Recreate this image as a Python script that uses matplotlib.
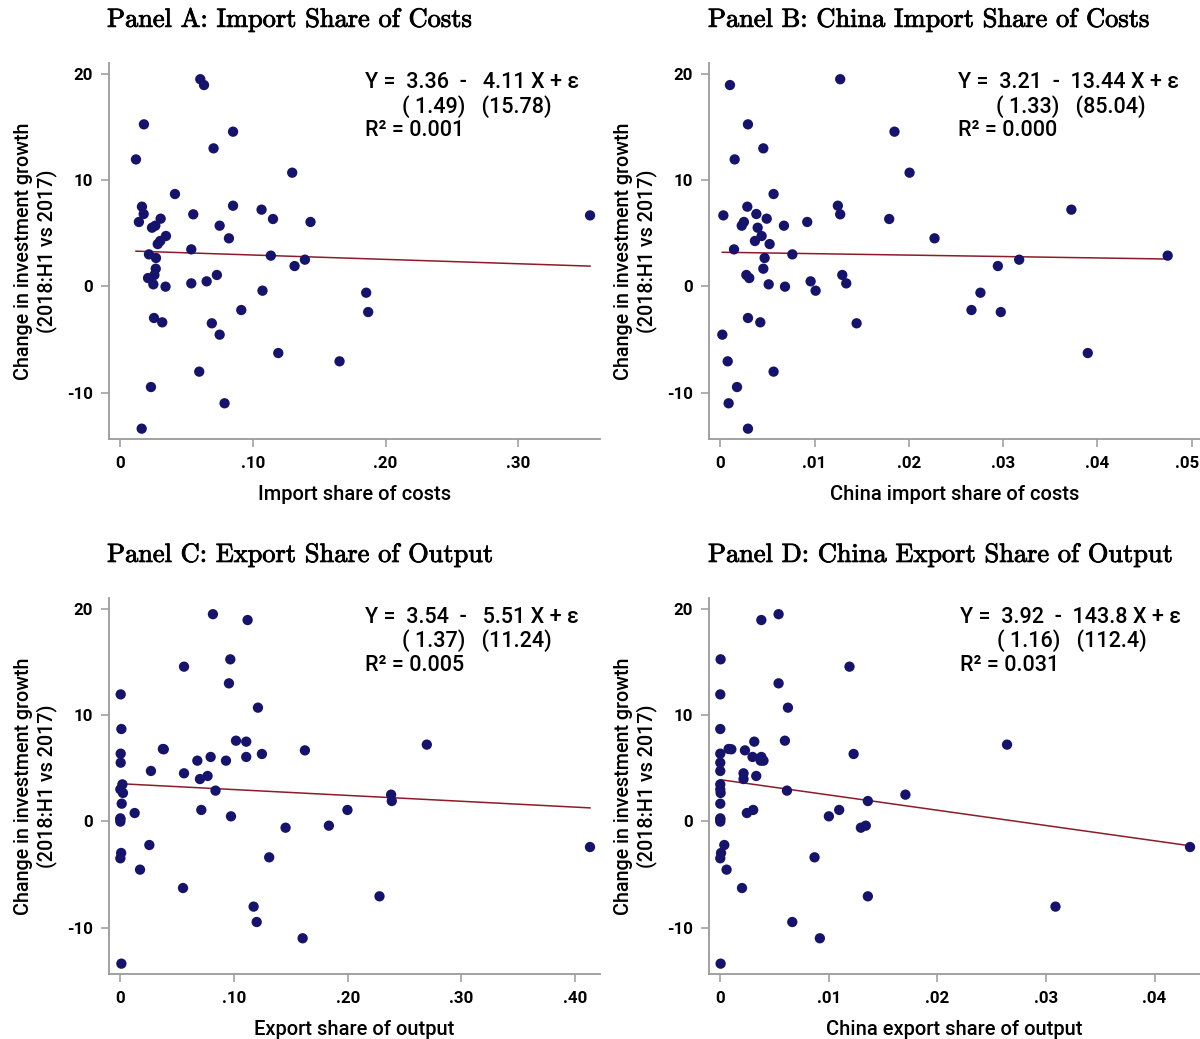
import numpy as np
import matplotlib
matplotlib.use("Agg")
import matplotlib.pyplot as plt
import matplotlib.patheffects as pe
import matplotlib.transforms as mtransforms

# change in investment growth, 2018:H1 vs 2017 (same firms in every panel)
inv_growth_change = [19.5, 18.95, 15.25, 14.56, 12.99, 11.95, 10.7, 8.69, 7.59, 7.5,
                     7.22, 6.81, 6.78, 6.68, 6.37, 6.34, 6.06, 6.06, 5.71, 5.71,
                     5.52, 4.74, 4.52, 4.27, 3.98, 3.48, 3.01, 2.89, 2.67, 2.51,
                     1.91, 1.66, 1.07, 1.07, 0.78, 0.47, 0.28, 0.19, -0.03, -0.41,
                     -0.60, -2.23, -2.42, -2.98, -3.39, -3.48, -4.55, -6.28, -7.06, -8.03,
                     -9.48, -11.01, -13.4]

import_share = [0.0603, 0.0631, 0.0178, 0.0850, 0.0703, 0.0118, 0.1296, 0.0412, 0.0850, 0.0163,
                0.1065, 0.0176, 0.0550, 0.3542, 0.0304, 0.1151, 0.1434, 0.0140, 0.0264, 0.0749,
                0.0239, 0.0344, 0.0819, 0.0301, 0.0282, 0.0535, 0.0216, 0.1135, 0.0269, 0.1392,
                0.1314, 0.0267, 0.0257, 0.0728, 0.0209, 0.0651, 0.0535, 0.0249, 0.0341, 0.1072,
                0.1854, 0.0912, 0.1869, 0.0254, 0.0316, 0.0690, 0.0749, 0.1191, 0.1653, 0.0595,
                0.0231, 0.0786, 0.0161]

china_import_share = [0.01272, 0.00102, 0.00293, 0.01848, 0.00456, 0.00152, 0.02008, 0.00565, 0.01247, 0.00286,
                      0.03725, 0.00382, 0.01272, 0.00032, 0.00492, 0.01792, 0.00250, 0.00922, 0.00227, 0.00675,
                      0.00396, 0.00438, 0.02273, 0.00367, 0.00523, 0.00145, 0.00764, 0.04747, 0.00470, 0.03171,
                      0.02945, 0.00456, 0.00276, 0.01294, 0.00307, 0.00958, 0.01336, 0.00513, 0.00686, 0.01011,
                      0.02760, 0.02665, 0.02976, 0.00293, 0.00424, 0.01446, 0.00021, 0.03899, 0.00078, 0.00565,
                      0.00177, 0.00088, 0.00293]

export_share = [0.0814, 0.1119, 0.0967, 0.0560, 0.0955, 0.0003, 0.1210, 0.0009, 0.1017, 0.1107,
                0.2695, 0.0374, 0.0382, 0.1623, 0.0003, 0.1245, 0.0794, 0.1107, 0.0677, 0.0929,
                0.0003, 0.0269, 0.0560, 0.0767, 0.0700, 0.0018, 0.0000, 0.0837, 0.0023, 0.2381,
                0.2387, 0.0012, 0.0712, 0.1997, 0.0126, 0.0973, 0.0000, 0.0000, 0.0000, 0.1834,
                0.1453, 0.0255, 0.4130, 0.0007, 0.1309, 0.0000, 0.0173, 0.0551, 0.2279, 0.1172,
                0.1199, 0.1603, 0.0009]

china_export_share = [0.00537, 0.00378, 0.00003, 0.01190, 0.00537, 0.00000, 0.00623, 0.00000, 0.00595, 0.00313,
                      0.02641, 0.00077, 0.00102, 0.00227, 0.00000, 0.01228, 0.00297, 0.00378, 0.00372, 0.00398,
                      0.00000, 0.00000, 0.00214, 0.00331, 0.00214, 0.00000, 0.00000, 0.00614, 0.00003, 0.01705,
                      0.01359, 0.00000, 0.00303, 0.01095, 0.00245, 0.01000, 0.00000, 0.00000, 0.00000, 0.01340,
                      0.01295, 0.00037, 0.04326, 0.00007, 0.00868, 0.00000, 0.00058, 0.00200, 0.01359, 0.03087,
                      0.00663, 0.00917, 0.00003]

# regression results printed on each panel
intercepts = [3.36, 3.21, 3.54, 3.92]
slopes = [-4.11, -13.44, -5.51, -143.8]
fit_lines = ["Y =  3.36  -   4.11 X + \u03b5",
             "Y =  3.21  -  13.44 X + \u03b5",
             "Y =  3.54  -   5.51 X + \u03b5",
             "Y =  3.92  -  143.8 X + \u03b5"]
se_lines = ["( 1.49)   (15.78)", "( 1.33)   (85.04)", "( 1.37)   (11.24)", "( 1.16)   (112.4)"]
r2_lines = ["R\u00b2 = 0.001", "R\u00b2 = 0.000", "R\u00b2 = 0.005", "R\u00b2 = 0.031"]

titles = ["Panel A: Import Share of Costs", "Panel B: China Import Share of Costs",
          "Panel C: Export Share of Output", "Panel D: China Export Share of Output"]
xlabels = ["Import share of costs", "China import share of costs",
           "Export share of output", "China export share of output"]
xticks = [[0, 0.1, 0.2, 0.3], [0, 0.01, 0.02, 0.03, 0.04, 0.05],
          [0, 0.1, 0.2, 0.3, 0.4], [0, 0.01, 0.02, 0.03, 0.04]]
xticklabels = [["0", ".10", ".20", ".30"], ["0", ".01", ".02", ".03", ".04", ".05"],
               ["0", ".10", ".20", ".30", ".40"], ["0", ".01", ".02", ".03", ".04"]]
xlims = [(-0.0083, 0.3617), (-0.00117, 0.0509), (-0.0097, 0.4218), (-0.00101, 0.04418)]
yticks = [-10, 0, 10, 20]

plt.rcParams['font.family'] = ['Roboto', 'DejaVu Sans']

fig = plt.figure(figsize=(12, 10.39), dpi=100)

# axes boxes in figure fraction (left, bottom, width, height)
boxes = [(0.0911, 0.5775, 0.4089, 0.3616), (0.5911, 0.5775, 0.4089, 0.3616),
         (0.0911, 0.0626, 0.4089, 0.3616), (0.5911, 0.0626, 0.4089, 0.3616)]
title_pos = [(0.0892, 0.9808), (0.590, 0.9808), (0.0892, 0.4658), (0.590, 0.4658)]
text_x = [(0.521, 0.596), (0.507, 0.584), (0.521, 0.596), (0.511, 0.586)]

xdata = [import_share, china_import_share, export_share, china_export_share]
grey = '#9a9a9a'
dot_color = '#15136b'
line_color = '#8b1c2a'

for i in range(4):
    ax = fig.add_axes(boxes[i])
    x = np.array(xdata[i])
    y = np.array(inv_growth_change)

    xs = np.array([x.min(), x.max()])
    ax.plot(xs, intercepts[i] + slopes[i] * xs, color=line_color, lw=1.1, zorder=2)
    ax.scatter(x, y, s=55, color=dot_color, edgecolors='none', zorder=3)

    ax.set_xlim(*xlims[i])
    ax.set_ylim(-14.37, 21.0)
    ax.set_xticks(xticks[i])
    ax.set_xticklabels(xticklabels[i])
    ax.set_yticks(yticks)
    ax.set_yticklabels([str(t) for t in yticks])

    for side in ['top', 'right']:
        ax.spines[side].set_visible(False)
    for side in ['left', 'bottom']:
        ax.spines[side].set_color(grey)
        ax.spines[side].set_linewidth(1.3)
    ax.tick_params(axis='both', colors=grey, labelcolor='black', length=6, width=1.1,
                   labelsize=12.2, pad=6)
    for lab in ax.get_xticklabels() + ax.get_yticklabels():
        lab.set_fontweight('bold')
    # last label of panel B sits on the figure edge, nudge it inside
    if i == 1:
        lab = ax.get_xticklabels()[-1]
        lab.set_transform(lab.get_transform() +
                          mtransforms.ScaledTranslation(-3 / 72, 0, fig.dpi_scale_trans))

    ax.set_xlabel(xlabels[i], fontsize=14.5, fontweight='medium', labelpad=10)
    ax.set_ylabel("Change in investment growth\n(2018:H1 vs 2017)", fontsize=14.2,
                  fontweight='medium', labelpad=7, linespacing=1.17)

    tx1, tx2 = text_x[i]
    ax.text(tx1, 0.950, fit_lines[i], transform=ax.transAxes, fontsize=15.5,
            fontweight='medium', va='center', ha='left')
    ax.text(tx2, 0.886, se_lines[i], transform=ax.transAxes, fontsize=15.5,
            fontweight='medium', va='center', ha='left')
    ax.text(tx1, 0.822, r2_lines[i], transform=ax.transAxes, fontsize=15.5,
            fontweight='medium', va='center', ha='left')

    fig.text(title_pos[i][0], title_pos[i][1], titles[i], family='cmr10', fontsize=19,
             ha='left', va='center',
             path_effects=[pe.withStroke(linewidth=0.6, foreground='black')])

fig.savefig("out.png", dpi=100)
